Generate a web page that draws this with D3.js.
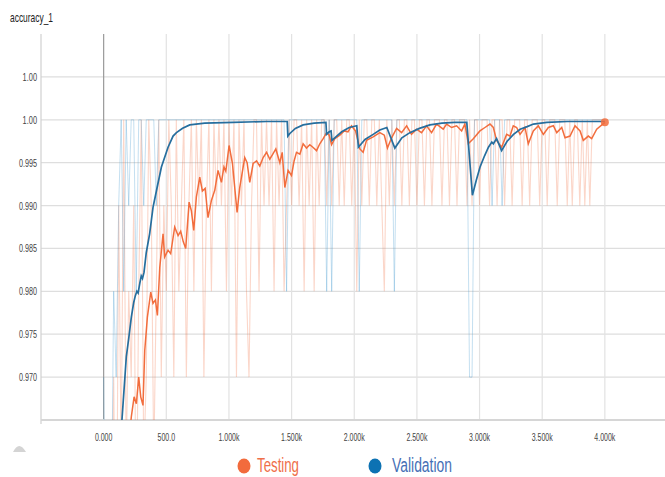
<!DOCTYPE html>
<html lang="en">
<head>
    <meta charset="UTF-8">
    <title>accuracy_1</title>
    <script src="https://d3js.org/d3.v7.min.js"></script>
    <style>
        body { margin: 0; background: #fff; }
        svg { display: block; }
        .tick-label { font-family: "Liberation Sans Narrow", "Liberation Sans", Arial, sans-serif; font-size: 10.5px; fill: #444; }
        .title { font-family: "Liberation Sans Narrow", "Liberation Sans", Arial, sans-serif; font-size: 13px; fill: #222; }
        .legend-text { font-family: "Liberation Sans Narrow", "Liberation Sans", Arial, sans-serif; font-size: 20px; }
    </style>
</head>
<body>
    <div id="chart"></div>
    <script>
        // y ticks (the top one is 1.005, shown rounded as in the original)
        const yTickValues = [1.005, 1.000, 0.995, 0.990, 0.985, 0.980, 0.975, 0.970];
        const yTickLabels = ["1.00", "1.00", "0.995", "0.990", "0.985", "0.980", "0.975", "0.970"];
        const xTickValues = [0, 500, 1000, 1500, 2000, 2500, 3000, 3500, 4000];
        const xTickLabels = ["0.000", "500.0", "1.000k", "1.500k", "2.000k", "2.500k", "3.000k", "3.500k", "4.000k"];

        const seriesNames = ["Testing", "Validation"];

        // smoothed curves
        const testingSteps = [205, 221, 243, 261, 280, 296, 314, 328, 349, 376, 394, 413, 429, 448, 474, 487, 514, 535, 567, 594,
            615, 635, 655, 682, 700, 719, 740, 767, 788, 810, 833, 860, 887, 913, 940, 960, 975, 1001, 1028, 1065,
            1086, 1126, 1145, 1166, 1193, 1220, 1246, 1273, 1300, 1326, 1350, 1374, 1406, 1425, 1446, 1472, 1499, 1520, 1539, 1566,
            1592, 1619, 1645, 1670, 1699, 1725, 1752, 1779, 1800, 1819, 1845, 1885, 1920, 1950, 1978, 2010, 2045, 2071, 2098, 2151,
            2204, 2240, 2265, 2298, 2338, 2378, 2418, 2457, 2497, 2537, 2577, 2617, 2657, 2710, 2737, 2777, 2817, 2857, 2883, 2910,
            2950, 3003, 3043, 3083, 3110, 3136, 3176, 3216, 3243, 3269, 3296, 3323, 3363, 3389, 3429, 3469, 3509, 3549, 3589, 3616,
            3656, 3682, 3722, 3762, 3802, 3828, 3868, 3895, 3935, 4000];
        const testingSmooth = [0.9630, 0.9654, 0.9677, 0.9669, 0.9700, 0.9677, 0.9667, 0.9731, 0.9770, 0.9799, 0.9786, 0.9790, 0.9772, 0.9828, 0.9867, 0.9840, 0.9848, 0.9844, 0.9875, 0.9865,
            0.9870, 0.9858, 0.9850, 0.9904, 0.9894, 0.9871, 0.9910, 0.9933, 0.9917, 0.9920, 0.9886, 0.9906, 0.9918, 0.9941, 0.9927, 0.9945, 0.9940, 0.9970, 0.9949, 0.9892,
            0.9921, 0.9956, 0.9950, 0.9927, 0.9949, 0.9952, 0.9946, 0.9956, 0.9962, 0.9954, 0.9960, 0.9966, 0.9950, 0.9962, 0.9921, 0.9941, 0.9935, 0.9952, 0.9962, 0.9960,
            0.9972, 0.9967, 0.9971, 0.9968, 0.9964, 0.9972, 0.9978, 0.9985, 0.9982, 0.9971, 0.9978, 0.9982, 0.9987, 0.9986, 0.9993, 0.9987, 0.9966, 0.9962, 0.9976, 0.9980,
            0.9985, 0.9982, 0.9967, 0.9979, 0.9990, 0.9985, 0.9993, 0.9983, 0.9989, 0.9985, 0.9993, 0.9985, 0.9995, 0.9989, 0.9995, 0.9991, 0.9993, 0.9987, 0.9995, 0.9972,
            0.9978, 0.9987, 0.9991, 0.9995, 0.9991, 0.9976, 0.9968, 0.9983, 0.9981, 0.9993, 0.9991, 0.9983, 0.9991, 0.9972, 0.9987, 0.9993, 0.9983, 0.9991, 0.9993, 0.9985,
            0.9991, 0.9979, 0.9981, 0.9993, 0.9987, 0.9976, 0.9981, 0.9978, 0.9989, 0.9997];

        const validationSteps = [130, 146, 181, 200, 221, 240, 253, 265, 275, 288, 300, 310, 322, 340, 367, 394, 421, 461, 514, 554,
            581, 630, 687, 807, 1033, 1300, 1465, 1470, 1486, 1530, 1592, 1680, 1774, 1779, 1800, 1815, 1822, 1860, 1900, 1960,
            2020, 2033, 2086, 2151, 2204, 2260, 2324, 2380, 2444, 2520, 2604, 2700, 2800, 2898, 2943, 2975, 3004, 3040, 3071, 3098,
            3110, 3136, 3176, 3220, 3271, 3324, 3380, 3430, 3537, 3700, 4000];
        const validationSmooth = [0.9620, 0.9650, 0.9724, 0.9745, 0.9770, 0.9787, 0.9795, 0.9800, 0.9798, 0.9809, 0.9818, 0.9815, 0.9822, 0.9845, 0.9867, 0.9898, 0.9917, 0.9945, 0.9968, 0.9981,
            0.9985, 0.9990, 0.9994, 0.9996, 0.9997, 0.9998, 0.9998, 0.9981, 0.9984, 0.9990, 0.9994, 0.9996, 0.9997, 0.9983, 0.9986, 0.9987, 0.9976, 0.9981, 0.9986, 0.9991,
            0.9993, 0.9968, 0.9977, 0.9983, 0.9988, 0.9991, 0.9967, 0.9979, 0.9985, 0.9990, 0.9994, 0.9996, 0.9997, 0.9997, 0.9912, 0.9930, 0.9945, 0.9958, 0.9968, 0.9974,
            0.9972, 0.9978, 0.9964, 0.9975, 0.9983, 0.9989, 0.9992, 0.9995, 0.9997, 0.9998, 0.9998];

        // raw values (percent), one every 20 steps from 0 to 4000
        const rawStepSize = 20;
        const testingRaw = [
            90, 93, 96, 95, 97, 94, 99, 96, 100, 96, 98, 97, 99, 95, 98, 100, 96, 97, 100, 99,
            96, 98, 100, 97, 99, 98, 100, 99, 97, 100, 98, 99, 100, 97, 99, 100, 98, 100, 99, 100,
            97, 99, 100, 98, 100, 99, 100, 99, 100, 98, 100, 99, 100, 97, 100, 99, 100, 98, 97, 99,
            100, 100, 98, 100, 99, 100, 99, 100, 98, 100, 99, 100, 98, 99, 100, 99, 100, 100, 99, 100,
            98, 100, 99, 100, 98, 100, 99, 100, 100, 99, 100, 99, 100, 100, 99, 100, 99, 100, 100, 99,
            100, 98, 100, 99, 100, 100, 99, 100, 100, 99, 100, 99, 98, 100, 99, 100, 99, 100, 100, 99,
            100, 100, 99, 100, 100, 99, 100, 100, 99, 100, 100, 99, 100, 100, 100, 99, 100, 100, 99, 100,
            100, 99, 100, 100, 100, 99, 100, 99, 100, 100, 99, 100, 100, 100, 99, 100, 100, 99, 100, 100,
            99, 100, 100, 99, 100, 100, 100, 99, 100, 100, 99, 100, 100, 100, 99, 100, 100, 99, 100, 100,
            100, 99, 100, 100, 100, 99, 100, 99, 100, 100, 99, 100, 99, 100, 99, 100, 100, 100, 100, 100,
            100];
        const validationRaw = [
            97, 94, 96, 95, 98, 97, 99, 100, 98, 100, 99, 100, 100, 98, 100, 100, 99, 100, 100, 100,
            100, 99, 100, 100, 100, 100, 100, 100, 100, 100, 100, 100, 100, 100, 100, 100, 100, 100, 100, 100,
            100, 100, 100, 100, 100, 100, 100, 100, 100, 100, 100, 100, 100, 100, 100, 100, 100, 100, 100, 100,
            100, 100, 100, 100, 100, 100, 100, 100, 100, 100, 100, 100, 100, 98, 100, 100, 100, 100, 100, 100,
            100, 100, 100, 100, 100, 100, 100, 100, 100, 98, 100, 98, 100, 100, 100, 100, 100, 100, 100, 100,
            100, 100, 98, 100, 100, 100, 100, 100, 100, 100, 100, 100, 100, 100, 100, 100, 98, 100, 100, 100,
            100, 100, 100, 100, 100, 100, 100, 100, 100, 100, 100, 100, 100, 100, 100, 100, 100, 100, 100, 100,
            100, 100, 100, 100, 100, 100, 97, 97, 100, 100, 100, 100, 100, 100, 100, 99, 100, 100, 100, 99,
            100, 100, 100, 100, 100, 100, 100, 100, 100, 100, 100, 100, 100, 100, 100, 100, 100, 100, 100, 100,
            100, 100, 100, 100, 100, 100, 100, 100, 100, 100, 100, 100, 100, 100, 100, 100, 100, 100, 100, 100,
            100];

        const orange = "#f26d3d";
        const blue = "#266e9e";

        const W = 665, H = 477;
        const plot = { left: 41, right: 665, top: 34, bottom: 420 };

        const svg = d3.select("#chart")
            .append("svg")
            .attr("width", W)
            .attr("height", H);

        const x = d3.scaleLinear()
            .domain([-500, 4480])
            .range([plot.left, plot.right]);

        const y = d3.scaleLinear()
            .domain([0.965, 1.010])
            .range([plot.bottom, plot.top]);

        // title
        svg.append("text")
            .attr("class", "title")
            .attr("x", 10)
            .attr("y", 22)
            .attr("textLength", 43)
            .attr("lengthAdjust", "spacingAndGlyphs")
            .text("accuracy_1");

        // grid
        const grid = svg.append("g");
        grid.selectAll(".hgrid")
            .data(yTickValues)
            .enter()
            .append("line")
            .attr("x1", plot.left)
            .attr("x2", plot.right)
            .attr("y1", d => y(d))
            .attr("y2", d => y(d))
            .attr("stroke", "#dedede")
            .attr("stroke-width", 1.2);

        grid.selectAll(".vgrid")
            .data(xTickValues)
            .enter()
            .append("line")
            .attr("x1", d => x(d))
            .attr("x2", d => x(d))
            .attr("y1", plot.top)
            .attr("y2", plot.bottom)
            .attr("stroke", d => d === 0 ? "#9a9a9a" : "#e2e2e2")
            .attr("stroke-width", 1.2);

        // left border
        grid.append("line")
            .attr("x1", plot.left).attr("x2", plot.left)
            .attr("y1", plot.top).attr("y2", plot.bottom + 4)
            .attr("stroke", "#d0d0d0")
            .attr("stroke-width", 1.2);

        // bottom axis line
        grid.append("line")
            .attr("x1", plot.left).attr("x2", plot.right)
            .attr("y1", plot.bottom).attr("y2", plot.bottom)
            .attr("stroke", "#d6d6d6")
            .attr("stroke-width", 2);

        // y labels
        svg.selectAll(".ylab")
            .data(yTickValues)
            .enter()
            .append("text")
            .attr("class", "tick-label")
            .attr("x", 37)
            .attr("y", d => y(d) + 4)
            .attr("text-anchor", "end")
            .attr("textLength", (d, i) => yTickLabels[i].length * 3.6)
            .attr("lengthAdjust", "spacingAndGlyphs")
            .text((d, i) => yTickLabels[i]);

        // x labels
        svg.selectAll(".xlab")
            .data(xTickValues)
            .enter()
            .append("text")
            .attr("class", "tick-label")
            .attr("x", d => x(d))
            .attr("y", 441)
            .attr("text-anchor", "middle")
            .attr("textLength", (d, i) => xTickLabels[i].length * 3.5)
            .attr("lengthAdjust", "spacingAndGlyphs")
            .text((d, i) => xTickLabels[i]);

        // clip
        svg.append("clipPath")
            .attr("id", "clip")
            .append("rect")
            .attr("x", plot.left)
            .attr("y", plot.top)
            .attr("width", plot.right - plot.left)
            .attr("height", plot.bottom - plot.top);

        const lines = svg.append("g").attr("clip-path", "url(#clip)");

        const rawLine = d3.line()
            .x((d, i) => x(i * rawStepSize))
            .y(d => y(d / 100));

        lines.append("path")
            .datum(testingRaw)
            .attr("d", rawLine)
            .attr("fill", "none")
            .attr("stroke", orange)
            .attr("stroke-opacity", 0.28)
            .attr("stroke-width", 1.1);

        lines.append("path")
            .datum(validationRaw)
            .attr("d", rawLine)
            .attr("fill", "none")
            .attr("stroke", "#3d95cc")
            .attr("stroke-opacity", 0.3)
            .attr("stroke-width", 1);

        const smoothLine = d3.line()
            .x(d => x(d[0]))
            .y(d => y(d[1]));

        lines.append("path")
            .datum(testingSteps.map((s, i) => [s, testingSmooth[i]]))
            .attr("d", smoothLine)
            .attr("fill", "none")
            .attr("stroke", orange)
            .attr("stroke-width", 1.5);

        lines.append("path")
            .datum(validationSteps.map((s, i) => [s, validationSmooth[i]]))
            .attr("d", smoothLine)
            .attr("fill", "none")
            .attr("stroke", blue)
            .attr("stroke-width", 1.7);

        // last point marker of testing
        const last = testingSteps.length - 1;
        svg.append("circle")
            .attr("cx", x(testingSteps[last]))
            .attr("cy", y(testingSmooth[last]))
            .attr("r", 4)
            .attr("fill", orange)
            .attr("fill-opacity", 0.85);

        // small expand icon at bottom left
        svg.append("path")
            .attr("d", "M13,452 Q19,440 26,452 Z")
            .attr("fill", "#d4d4d4");

        // legend
        const legend = [
            { name: seriesNames[0], dot: "#f26b3c", text: "#ef6f4a", cx: 244, tx: 257, len: 42 },
            { name: seriesNames[1], dot: "#0d72b3", text: "#456fb6", cx: 375, tx: 392, len: 60 }
        ];
        legend.forEach(l => {
            svg.append("ellipse")
                .attr("cx", l.cx)
                .attr("cy", 466)
                .attr("rx", 6.5)
                .attr("ry", 7.5)
                .attr("fill", l.dot);
            svg.append("text")
                .attr("class", "legend-text")
                .attr("x", l.tx)
                .attr("y", 472)
                .attr("fill", l.text)
                .attr("textLength", l.len)
                .attr("lengthAdjust", "spacingAndGlyphs")
                .text(l.name);
        });
    </script>
</body>
</html>
